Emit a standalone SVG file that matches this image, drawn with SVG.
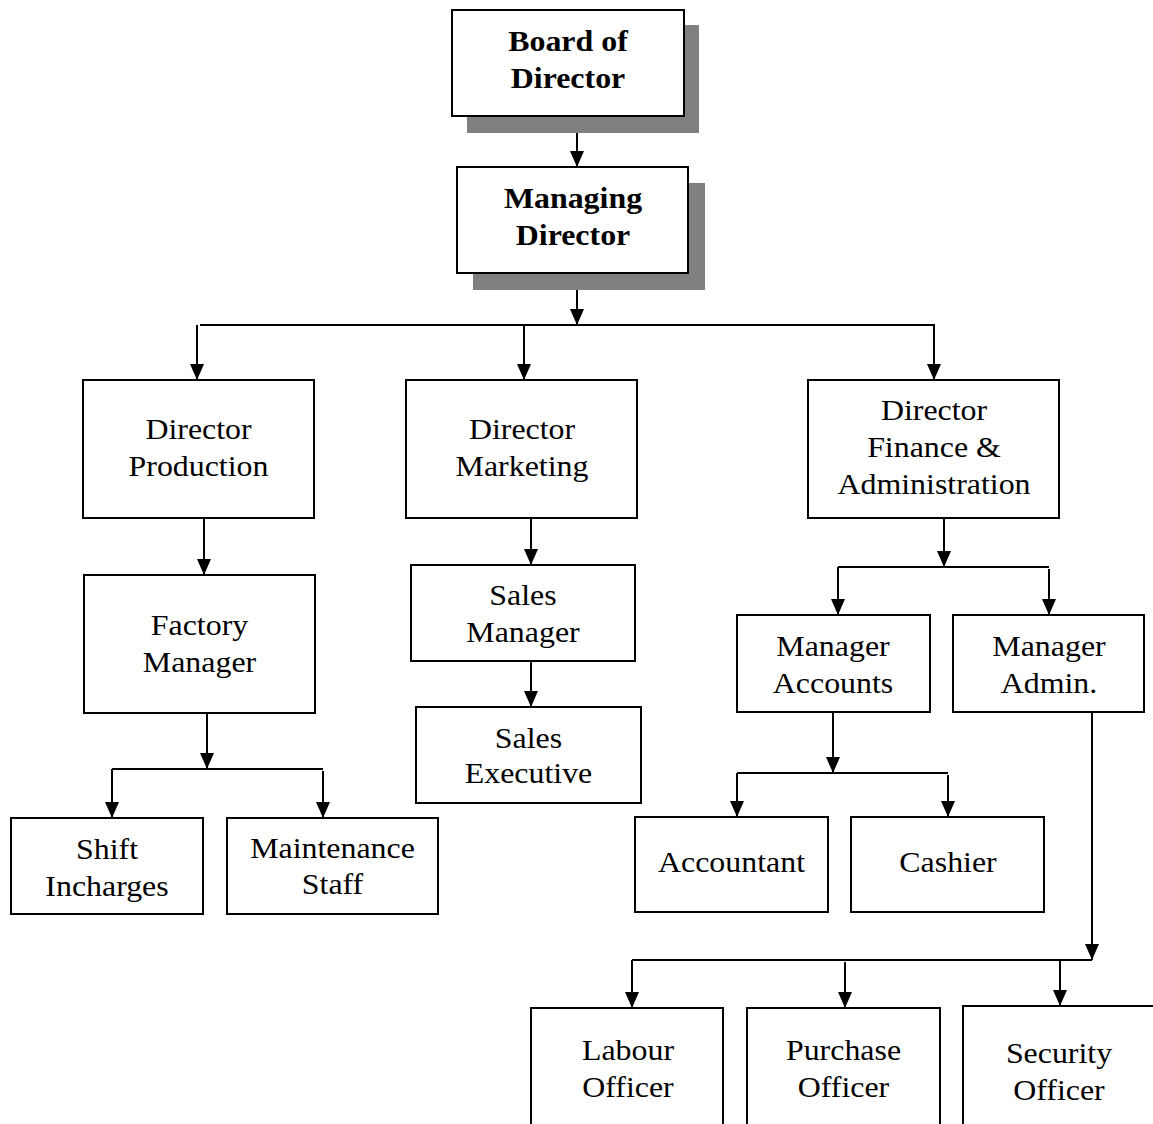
<svg xmlns="http://www.w3.org/2000/svg" width="1153" height="1124" viewBox="0 0 1153 1124">
<style>
.box{fill:#fff;stroke:#000;stroke-width:2}
.shadow{fill:#808080;stroke:none}
.t{font-family:"Liberation Serif","Times New Roman",serif;font-size:29px;fill:#000;text-anchor:middle}
.b{font-weight:bold}
.c{fill:none;stroke:#000;stroke-width:2}
.a{fill:none;stroke:#000;stroke-width:2;marker-end:url(#arr)}
</style>
<defs>
<marker id="arr" viewBox="0 0 16 14" refX="16" refY="7" markerWidth="16" markerHeight="14" markerUnits="userSpaceOnUse" orient="auto">
<path d="M0,0 L16,7 L0,14 z" fill="#000"/>
</marker>
</defs>
<rect width="1153" height="1124" fill="#fff"/>
<g id="connectors">
<path class="a" d="M577,116 V167"/>
<path class="a" d="M577,273 V325"/>
<path class="c" d="M200,325 H935"/>
<path class="a" d="M197,325 V380"/>
<path class="a" d="M524,325 V380"/>
<path class="a" d="M934,325 V380"/>
<path class="a" d="M204,518 V575"/>
<path class="a" d="M207,713 V769"/>
<path class="c" d="M112,769 H323"/>
<path class="a" d="M112,769 V818"/>
<path class="a" d="M323,771 V818"/>
<path class="a" d="M531,518 V565"/>
<path class="a" d="M531,661 V707"/>
<path class="a" d="M944,518 V567"/>
<path class="c" d="M838,567 H1049"/>
<path class="a" d="M838,567 V615"/>
<path class="a" d="M1049,569 V615"/>
<path class="a" d="M833,712 V773"/>
<path class="c" d="M737,773 H948"/>
<path class="a" d="M737,773 V817"/>
<path class="a" d="M948,775 V817"/>
<path class="a" d="M1092,712 V960"/>
<path class="c" d="M632,960 H1092"/>
<path class="a" d="M632,960 V1008"/>
<path class="a" d="M845,962 V1008"/>
<path class="a" d="M1060,960 V1006"/>
</g>
<g id="board">
<rect class="shadow" x="467" y="25" width="232" height="108"/>
<rect class="box" x="452" y="10" width="232" height="106"/>
<g transform="translate(568,0) scale(1.1,1)"><text class="t b" x="0" y="51">Board of</text><text class="t b" x="0" y="88">Director</text></g>
</g>
<g id="md">
<rect class="shadow" x="473" y="183" width="232" height="107"/>
<rect class="box" x="457" y="167" width="231" height="106"/>
<g transform="translate(573,0) scale(1.1,1)"><text class="t b" x="0" y="208">Managing</text><text class="t b" x="0" y="245">Director</text></g>
</g>
<g id="dprod">
<rect class="box" x="83" y="380" width="231" height="138"/>
<g transform="translate(198.5,0) scale(1.1,1)"><text class="t" x="0" y="439">Director</text><text class="t" x="0" y="476">Production</text></g>
</g>
<g id="dmkt">
<rect class="box" x="406" y="380" width="231" height="138"/>
<g transform="translate(522,0) scale(1.1,1)"><text class="t" x="0" y="439">Director</text><text class="t" x="0" y="476">Marketing</text></g>
</g>
<g id="dfin">
<rect class="box" x="808" y="380" width="251" height="138"/>
<g transform="translate(934,0) scale(1.1,1)"><text class="t" x="0" y="420">Director</text><text class="t" x="0" y="457">Finance &amp;</text><text class="t" x="0" y="494">Administration</text></g>
</g>
<g id="factory">
<rect class="box" x="84" y="575" width="231" height="138"/>
<g transform="translate(199.5,0) scale(1.1,1)"><text class="t" x="0" y="635">Factory</text><text class="t" x="0" y="672">Manager</text></g>
</g>
<g id="shift">
<rect class="box" x="11" y="818" width="192" height="96"/>
<g transform="translate(107,0) scale(1.1,1)"><text class="t" x="0" y="859">Shift</text><text class="t" x="0" y="896">Incharges</text></g>
</g>
<g id="maint">
<rect class="box" x="227" y="818" width="211" height="96"/>
<g transform="translate(332.5,0) scale(1.1,1)"><text class="t" x="0" y="858">Maintenance</text><text class="t" x="0" y="894">Staff</text></g>
</g>
<g id="salesmgr">
<rect class="box" x="411" y="565" width="224" height="96"/>
<g transform="translate(523,0) scale(1.1,1)"><text class="t" x="0" y="605">Sales</text><text class="t" x="0" y="642">Manager</text></g>
</g>
<g id="salesexec">
<rect class="box" x="416" y="707" width="225" height="96"/>
<g transform="translate(528.5,0) scale(1.1,1)"><text class="t" x="0" y="748">Sales</text><text class="t" x="0" y="783">Executive</text></g>
</g>
<g id="mgracc">
<rect class="box" x="737" y="615" width="193" height="97"/>
<g transform="translate(833,0) scale(1.1,1)"><text class="t" x="0" y="656">Manager</text><text class="t" x="0" y="693">Accounts</text></g>
</g>
<g id="mgradmin">
<rect class="box" x="953" y="615" width="191" height="97"/>
<g transform="translate(1049,0) scale(1.1,1)"><text class="t" x="0" y="656">Manager</text><text class="t" x="0" y="693">Admin.</text></g>
</g>
<g id="accountant">
<rect class="box" x="635" y="817" width="193" height="95"/>
<g transform="translate(731.5,0) scale(1.1,1)"><text class="t" x="0" y="872">Accountant</text></g>
</g>
<g id="cashier">
<rect class="box" x="851" y="817" width="193" height="95"/>
<g transform="translate(948,0) scale(1.1,1)"><text class="t" x="0" y="872">Cashier</text></g>
</g>
<g id="labour">
<rect class="box" x="531" y="1008" width="192" height="140"/>
<g transform="translate(628,0) scale(1.1,1)"><text class="t" x="0" y="1060">Labour</text><text class="t" x="0" y="1097">Officer</text></g>
</g>
<g id="purchase">
<rect class="box" x="747" y="1008" width="193" height="140"/>
<g transform="translate(843.5,0) scale(1.1,1)"><text class="t" x="0" y="1060">Purchase</text><text class="t" x="0" y="1097">Officer</text></g>
</g>
<g id="security">
<rect class="box" x="963" y="1006" width="220" height="140"/>
<g transform="translate(1059,0) scale(1.1,1)"><text class="t" x="0" y="1063">Security</text><text class="t" x="0" y="1100">Officer</text></g>
</g>
</svg>
